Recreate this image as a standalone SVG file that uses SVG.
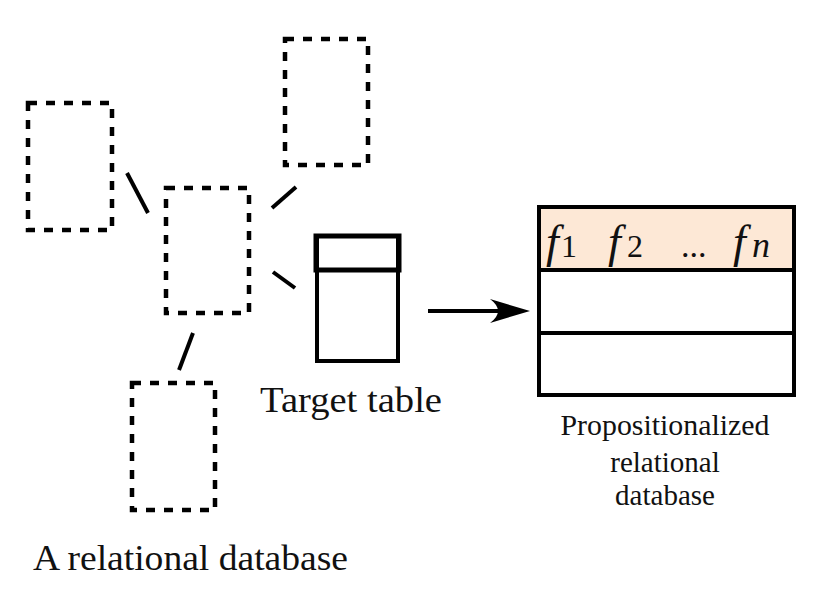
<svg xmlns="http://www.w3.org/2000/svg" width="834" height="601" viewBox="0 0 834 601">
<style>
.dash{fill:none;stroke:#000;stroke-width:4.5;stroke-dasharray:9 9}
.ln{stroke:#000;stroke-width:4;stroke-linecap:butt}
.solid{fill:none;stroke:#000;stroke-width:4}
.lbl{font-family:"Liberation Serif",serif;fill:#111}
.math{font-family:"Liberation Serif",serif;fill:#111}
</style>
<rect width="834" height="601" fill="#fff"/>
<g id="table-left"><rect class="dash" x="28" y="103" width="84" height="127"/></g>
<g id="table-top"><rect class="dash" x="285" y="39" width="83" height="126"/></g>
<g id="table-mid"><rect class="dash" x="166" y="188" width="83" height="125"/></g>
<g id="table-bottom"><rect class="dash" x="132" y="383" width="83" height="127"/></g>
<g id="target-table">
<rect class="solid" x="317" y="236" width="81" height="125"/>
<rect fill="none" stroke="#000" stroke-width="5" x="316" y="236" width="83" height="34"/>
<text class="lbl" x="260" y="412" font-size="36" textLength="182" lengthAdjust="spacingAndGlyphs">Target table</text>
</g>
<g id="prop-table">
<rect x="539" y="207" width="255" height="63" fill="#fde8d6"/>
<rect class="solid" x="539" y="207" width="255" height="188"/>
<line class="ln" x1="539" y1="270" x2="794" y2="270"/>
<line class="ln" x1="539" y1="333" x2="794" y2="333"/>
<text class="math" y="257" font-size="46"><tspan x="546" font-style="italic">f</tspan><tspan x="561" font-size="32">1</tspan><tspan x="608" font-style="italic">f</tspan><tspan x="627" font-size="32">2</tspan><tspan x="681" font-size="34">...</tspan><tspan x="733" font-style="italic">f</tspan><tspan x="752" font-size="36" font-style="italic">n</tspan></text>
<text class="lbl" x="665" y="435" font-size="29" text-anchor="middle" textLength="209" lengthAdjust="spacingAndGlyphs">Propositionalized</text>
<text class="lbl" x="665" y="472" font-size="29" text-anchor="middle">relational</text>
<text class="lbl" x="665" y="505" font-size="29" text-anchor="middle">database</text>
</g>
<g id="connectors">
<line class="ln" x1="127" y1="173" x2="148" y2="213"/>
<line class="ln" x1="272" y1="208" x2="296" y2="187"/>
<line class="ln" x1="273" y1="272" x2="295" y2="288"/>
<line class="ln" x1="193" y1="333" x2="179" y2="370"/>
<line class="ln" x1="428" y1="311" x2="515" y2="311"/>
<path d="M530,311 L490,299 Q506,311 490,323 Z" fill="#000"/>
</g>
<text class="lbl" x="33" y="570" font-size="36" textLength="315" lengthAdjust="spacingAndGlyphs">A relational database</text>
</svg>
